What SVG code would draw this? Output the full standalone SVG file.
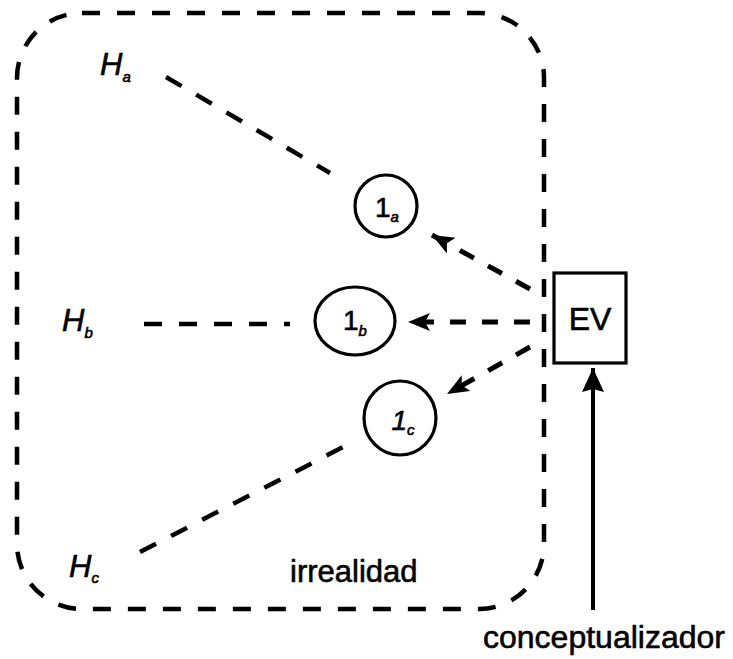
<svg xmlns="http://www.w3.org/2000/svg" width="733" height="659" viewBox="0 0 733 659">
<style>
  .bd{fill:none;stroke:#000;stroke-width:4.5;stroke-dasharray:18 17}
  .ln{fill:none;stroke:#000;stroke-width:4.5;stroke-dasharray:18 17}
  .ar{fill:none;stroke:#000;stroke-width:5;stroke-dasharray:16 16}
  .nd{fill:#fff;stroke:#000;stroke-width:3.2}
  .t{font-family:"Liberation Sans",Arial,Helvetica,sans-serif;fill:#000;stroke:#000;stroke-width:0.6}
  .h{font-size:31px;font-style:italic}
  .sub{font-size:15px;font-style:italic}
  .one{font-size:28px}
</style>
<defs>
  <marker id="ah" markerUnits="userSpaceOnUse" markerWidth="24" markerHeight="20" refX="22" refY="9" orient="auto">
    <path d="M0,0 L22,9 L0,18 L5,9 Z" fill="#000"/>
  </marker>
  <marker id="ahs" markerUnits="userSpaceOnUse" markerWidth="24" markerHeight="24" refX="24" refY="11" orient="auto">
    <path d="M0,0 L24,11 L0,22 L3,11 Z" fill="#000"/>
  </marker>
</defs>

<g id="irrealidad">
  <rect class="bd" x="17" y="13" width="527" height="596" rx="65" ry="65"/>
  <text class="t" x="290" y="582" font-size="31">irrealidad</text>
</g>

<g id="Ha">
  <text class="t h" x="100" y="75">H<tspan class="sub" dy="7">a</tspan></text>
</g>
<g id="Hb">
  <text class="t h" x="62" y="331">H<tspan class="sub" dy="7">b</tspan></text>
</g>
<g id="Hc">
  <text class="t h" x="69" y="577">H<tspan class="sub" dy="6">c</tspan></text>
</g>

<g id="n1a">
  <ellipse class="nd" cx="386" cy="206" rx="31" ry="31"/>
  <text class="t one" x="387" y="217" text-anchor="middle">1<tspan class="sub" font-size="14" dy="5">a</tspan></text>
</g>
<g id="n1b">
  <ellipse class="nd" cx="355" cy="321" rx="40" ry="34"/>
  <text class="t one" x="355" y="330" text-anchor="middle">1<tspan class="sub" font-size="14" dy="6">b</tspan></text>
</g>
<g id="n1c">
  <ellipse class="nd" cx="400" cy="418" rx="36" ry="37"/>
  <text class="t one" x="403" y="430" text-anchor="middle" font-style="italic">1<tspan class="sub" font-size="14" dy="5">c</tspan></text>
</g>

<g id="EV">
  <rect class="nd" x="554" y="273" width="72" height="90"/>
  <text class="t" x="590" y="330" font-size="32" text-anchor="middle">EV</text>
</g>

<g id="conceptualizador">
  <text class="t" x="483" y="648" font-size="32">conceptualizador</text>
</g>

<g id="connectors">
  <line class="ln" x1="166" y1="77" x2="330" y2="173"/>
  <line class="ln" x1="144" y1="324" x2="290" y2="324"/>
  <line class="ln" x1="140" y1="552" x2="347" y2="445"/>
  <line class="ar" x1="530" y1="289" x2="432" y2="235" marker-end="url(#ah)"/>
  <line class="ar" x1="530" y1="322" x2="408" y2="322" marker-end="url(#ah)"/>
  <line class="ar" x1="530" y1="347" x2="447" y2="394" marker-end="url(#ah)"/>
  <line x1="593" y1="610" x2="593" y2="368" stroke="#000" stroke-width="4" marker-end="url(#ahs)"/>
</g>
</svg>
